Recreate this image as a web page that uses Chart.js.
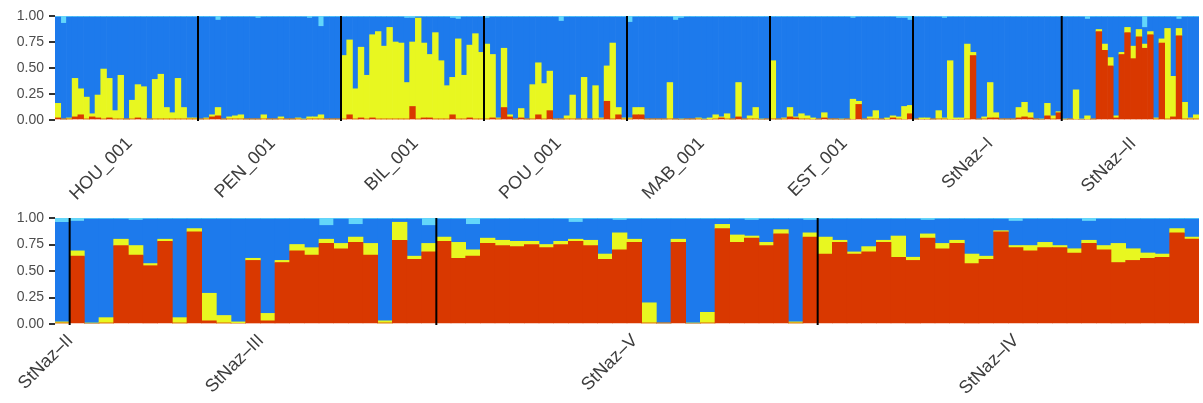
<!DOCTYPE html>
<html>
<head>
<meta charset="utf-8">
<script src="https://cdn.jsdelivr.net/npm/chart.js@4.4.1/dist/chart.umd.min.js"></script>
<style>
    html, body { margin: 0; padding: 0; background: #fff; }
    #top { position: absolute; left: 0; top: 0; width: 1203px; height: 200px; }
    #bottom { position: absolute; left: 0; top: 200px; width: 1203px; height: 203px; }
</style>
</head>
<body>
<div id="top"><canvas id="topChart"></canvas></div>
<div id="bottom"><canvas id="bottomChart"></canvas></div>
<script>
// ====================================
// Data - top panel (one value per individual, K = 4)
// ====================================
var topPops = ['HOU_001', 'PEN_001', 'BIL_001', 'POU_001', 'MAB_001', 'EST_001', 'StNaz\u2013I', 'StNaz\u2013II'];
var topSizes = [25, 25, 25, 25, 25, 25, 26, 24];

var topRed = [
    .02,.01,.01,.03,.05,.01,.03,.02,.01,.02,.01,.01,.01,.01,.02,.01,.01,.01,.01,.01,.01,.01,.01,.01,.01,
    .01,.01,.03,.04,.01,.01,.01,.01,.01,.01,.01,.01,.01,.01,.01,.01,.01,.01,0,.01,.01,.01,.01,.01,.01,
    .01,.05,.01,.02,.01,.02,.01,.01,.01,.01,.01,.01,.13,.01,.02,.02,.01,.01,.01,.05,.01,.01,.02,.01,.01,
    .01,.02,.01,.12,.03,.01,.02,.01,.01,.05,.01,.09,.01,.01,.01,.01,.01,.01,.01,.01,.01,.18,.01,.05,.01,
    .01,.05,.05,.01,.01,.01,.01,.01,.01,0,.01,.01,.01,0,0,.01,.02,.01,.01,.03,.01,.01,.01,0,.01,
    .01,.01,.01,.03,.02,.01,.01,0,.01,.02,.01,.01,0,.01,0,.15,.01,.01,.01,.01,0,.02,.01,0,.06,
    .01,0,0,.01,.01,.01,0,0,0,.01,.62,.01,.01,.02,.02,.01,.01,.01,.02,.03,.02,.01,0,.04,.01,.07,
    0,.01,0,0,0,.01,.85,.67,.52,.02,.63,.84,.59,.80,.69,.82,.01,.74,.01,.03,.81,.01,.01,.01
];
var topYellow = [
    .14,0,.01,.37,.25,.21,.03,.22,.48,.38,.08,.42,0,.18,.32,.31,0,.38,.43,.11,.06,.39,.11,.01,.01,
    0,.01,.02,.08,0,.02,.03,.04,0,0,0,.04,0,0,.02,0,0,.01,.01,.02,.02,.04,0,0,0,
    .61,.72,.29,.68,.42,.80,.84,.70,.88,.74,.73,.35,.62,.97,.72,.61,.83,.56,.32,.36,.77,.42,.70,.82,.64,
    .72,.61,.01,.57,.02,0,.09,0,.33,.50,.34,.38,0,0,.03,.23,0,.40,0,.32,.01,.34,.73,.07,.01,
    .01,.07,.07,0,0,0,0,.35,0,.01,0,0,.01,.01,.02,.04,.01,.05,0,.33,0,.03,.11,.01,0,
    .56,0,.01,.09,.01,.05,.03,.02,0,.05,0,0,.01,0,.20,.03,0,.02,.08,0,.02,.02,.02,.13,.08,
    0,.02,.02,0,.08,.01,.57,.02,.02,.72,.03,0,.02,.34,.05,0,0,0,.10,.14,.05,0,.01,.12,.03,.01,
    .01,0,.29,.01,.04,0,.02,.06,.08,.02,.02,.05,.12,.07,.04,.03,.01,.04,.87,.39,.07,.16,.01,.04
];
var topBlue = [
    .83,.92,.97,.59,.69,.77,.93,.75,.50,.59,.90,.56,.98,.80,.65,.67,.98,.60,.55,.87,.92,.59,.87,.97,.97,
    .98,.97,.94,.84,.98,.96,.95,.94,.98,.98,.97,.94,.98,.98,.96,.98,.98,.97,.98,.95,.96,.85,.98,.98,.98,
    .37,.22,.69,.29,.56,.17,.14,.28,.10,.24,.25,.62,.23,.01,.25,.36,.15,.42,.66,.57,.19,.56,.27,.16,.34,
    .25,.36,.97,.30,.94,.98,.88,.98,.65,.44,.64,.52,.98,.94,.95,.75,.98,.58,.98,.66,.97,.47,.25,.87,.97,
    .92,.87,.87,.98,.98,.98,.98,.63,.95,.97,.98,.98,.97,.98,.97,.94,.96,.93,.98,.63,.98,.95,.87,.98,.98,
    .42,.98,.97,.87,.96,.93,.95,.97,.98,.92,.98,.98,.98,.98,.78,.81,.98,.96,.90,.98,.97,.95,.95,.85,.82,
    .98,.97,.97,.98,.90,.96,.42,.97,.97,.26,.34,.98,.96,.63,.92,.98,.98,.98,.87,.82,.92,.98,.98,.83,.95,.91,
    .98,.98,.70,.98,.93,.98,.12,.26,.39,.95,.34,.10,.28,.12,.16,.14,.97,.21,.11,.57,.09,.82,.97,.94
];
var topCyan = [
    .01,.07,.01,.01,.01,.01,.01,.01,.01,.01,.01,.01,.01,.01,.01,.01,.01,.01,.01,.01,.01,.01,.01,.01,.01,
    .01,.01,.01,.04,.01,.01,.01,.01,.01,.01,.02,.01,.01,.01,.01,.01,.01,.01,.01,.02,.01,.10,.01,.01,.01,
    .01,.01,.01,.01,.01,.01,.01,.01,.01,.01,.01,.02,.02,.01,.01,.01,.01,.01,.01,.02,.03,.01,.01,.01,.01,
    .02,.01,.01,.01,.01,.01,.01,.01,.01,.01,.01,.01,.01,.05,.01,.01,.01,.01,.01,.01,.01,.01,.01,.01,.01,
    .06,.01,.01,.01,.01,.01,.01,.01,.04,.02,.01,.01,.01,.01,.01,.01,.01,.01,.01,.01,.01,.01,.01,.01,.01,
    .01,.01,.01,.01,.01,.01,.01,.01,.01,.01,.01,.01,.01,.01,.02,.01,.01,.01,.01,.01,.01,.01,.02,.02,.04,
    .01,.01,.01,.01,.01,.02,.01,.01,.01,.01,.01,.01,.01,.01,.01,.01,.01,.01,.01,.01,.01,.01,.01,.01,.01,.01,
    .01,.01,.01,.01,.03,.01,.01,.01,.01,.01,.01,.01,.01,.01,.11,.01,.01,.01,.01,.01,.03,.01,.01,.01
];

// ====================================
// Data - bottom panel
// ====================================
var bottomPops = ['StNaz\u2013II', 'StNaz\u2013III', 'StNaz\u2013V', 'StNaz\u2013IV'];
var bottomSizes = [1, 25, 26, 26];

var bottomRed = [
    .01,
    .64,0,.01,.74,.65,.55,.78,.01,.87,.03,.01,0,.60,.03,.58,.69,.65,.76,.71,.77,.65,.01,.79,.61,.68,
    .78,.62,.64,.76,.74,.73,.75,.72,.75,.78,.74,.61,.70,.77,.01,.01,.77,0,.01,.90,.77,.81,.74,.85,.01,.82,
    .66,.77,.66,.68,.77,.63,.60,.81,.71,.76,.57,.61,.87,.72,.69,.72,.72,.67,.76,.70,.58,.60,.62,.63,.86,.80
];
var bottomYellow = [
    .01,
    .05,.01,.05,.06,.09,.02,.02,.05,.03,.26,.07,.02,.02,.07,.02,.06,.07,.04,.05,.05,.11,.02,.17,.03,.08,
    .04,.15,.06,.05,.05,.05,.03,.03,.03,.02,.05,.05,.16,.03,.19,0,.03,.01,.10,.04,.07,.02,.03,.04,.01,.04,
    .16,.02,.02,.05,.02,.20,.03,.04,.05,.03,.09,.03,.01,.02,.05,.05,.02,.04,.03,.04,.18,.11,.05,.03,.04,.02
];
var bottomBlue = [
    .94,
    .28,.98,.93,.19,.24,.42,.19,.93,.09,.70,.91,.97,.37,.89,.39,.24,.27,.13,.23,.12,.23,.96,.03,.35,.17,
    .17,.22,.24,.18,.20,.21,.21,.24,.21,.16,.20,.33,.12,.19,.79,.98,.19,.98,.88,.05,.15,.15,.22,.10,.97,.12,
    .17,.20,.31,.26,.20,.16,.36,.13,.23,.20,.33,.35,.11,.23,.25,.22,.25,.28,.18,.25,.23,.28,.32,.33,.09,.17
];
var bottomCyan = [
    .04,
    .03,.01,.01,.01,.02,.01,.01,.01,.01,.01,.01,.01,.01,.01,.01,.01,.01,.07,.01,.06,.01,.01,.01,.01,.07,
    .01,.01,.06,.01,.01,.01,.01,.01,.01,.04,.01,.01,.02,.01,.01,.01,.01,.01,.01,.01,.01,.02,.01,.01,.01,.02,
    .01,.01,.01,.01,.01,.01,.01,.02,.01,.01,.01,.01,.01,.03,.01,.01,.01,.01,.03,.01,.01,.01,.01,.01,.01,.01
];

var COLORS = { red: '#D93800', yellow: '#E8F720', blue: '#1D7AEC', cyan: '#63D6FA' };
var FONT = "'Liberation Sans', Arial, Helvetica, sans-serif";

Chart.defaults.font.family = FONT;

// ====================================
// One STRUCTURE-style panel
// ====================================
function drawPanel(canvasId, pops, sizes, red, yellow, blue, cyan, look) {
    var n = red.length;
    var labels = red.map(function(v, i) { return i; });

    // population midpoints (for labels) and boundaries (for black lines)
    var mids = [], breaks = [], start = 0;
    sizes.forEach(function(s) {
        mids.push(start + (s - 1) / 2);
        start += s;
        breaks.push(start);
    });
    breaks.pop();

    var separators = {
        id: 'separators',
        afterDatasetsDraw: function(chart) {
            var x = chart.scales.x, area = chart.chartArea, ctx = chart.ctx;
            ctx.save();
            ctx.strokeStyle = '#000';
            ctx.lineWidth = 2;
            breaks.forEach(function(b) {
                var px = (x.getPixelForValue(b - 1) + x.getPixelForValue(b)) / 2;
                ctx.beginPath();
                ctx.moveTo(px, area.top);
                ctx.lineTo(px, area.bottom + 1);
                ctx.stroke();
            });
            ctx.restore();
        }
    };

    new Chart(document.getElementById(canvasId), {
        type: 'bar',
        data: {
            labels: labels,
            datasets: [
                { label: 'K1', data: red, backgroundColor: COLORS.red },
                { label: 'K2', data: yellow, backgroundColor: COLORS.yellow },
                { label: 'K3', data: blue, backgroundColor: COLORS.blue },
                { label: 'K4', data: cyan, backgroundColor: COLORS.cyan }
            ]
        },
        options: {
            responsive: true,
            maintainAspectRatio: false,
            animation: false,
            layout: { padding: { top: look.padTop, right: 4, left: 0, bottom: 0 } },
            plugins: {
                legend: { display: false },
                tooltip: { enabled: false }
            },
            datasets: {
                bar: { barPercentage: 1, categoryPercentage: 1, borderWidth: 0 }
            },
            scales: {
                x: { stacked: true, display: false },
                // label-only axis, so names sit at the middle of each population
                xl: {
                    type: 'linear',
                    position: 'bottom',
                    bounds: 'data',
                    offset: false,
                    min: -0.5,
                    max: n - 0.5,
                    grid: { display: false },
                    border: { display: false },
                    afterBuildTicks: function(s) {
                        s.ticks = mids.map(function(m) { return { value: m }; });
                    },
                    afterFit: function(s) {
                        s.height = look.axisHeight;
                        s.paddingLeft = 0;
                        s.paddingRight = 0;
                    },
                    ticks: {
                        autoSkip: false,
                        minRotation: 45,
                        maxRotation: 45,
                        padding: look.labelPad,
                        labelOffset: look.labelShift,
                        color: '#3c3c3c',
                        font: { size: 18 },
                        callback: function(v, i) { return pops[i]; }
                    }
                },
                y: {
                    stacked: true,
                    min: 0,
                    max: 1,
                    border: { display: false },
                    grid: { drawOnChartArea: false, drawTicks: true, tickLength: 6, color: '#333', lineWidth: 2 },
                    ticks: {
                        stepSize: 0.25,
                        padding: 5,
                        color: '#4d4d4d',
                        font: { size: 14 },
                        callback: function(v) { return v.toFixed(2); }
                    },
                    afterFit: function(s) {
                        s.width = 55;
                        s.paddingTop = 0;
                        s.paddingBottom = 0;
                    }
                }
            }
        },
        plugins: [separators]
    });
}

drawPanel('topChart', topPops, topSizes, topRed, topYellow, topBlue, topCyan,
    { padTop: 16, axisHeight: 80, labelPad: 5, labelShift: 3 });
drawPanel('bottomChart', bottomPops, bottomSizes, bottomRed, bottomYellow, bottomBlue, bottomCyan,
    { padTop: 18, axisHeight: 79, labelPad: -2, labelShift: 8 });
</script>
</body>
</html>
